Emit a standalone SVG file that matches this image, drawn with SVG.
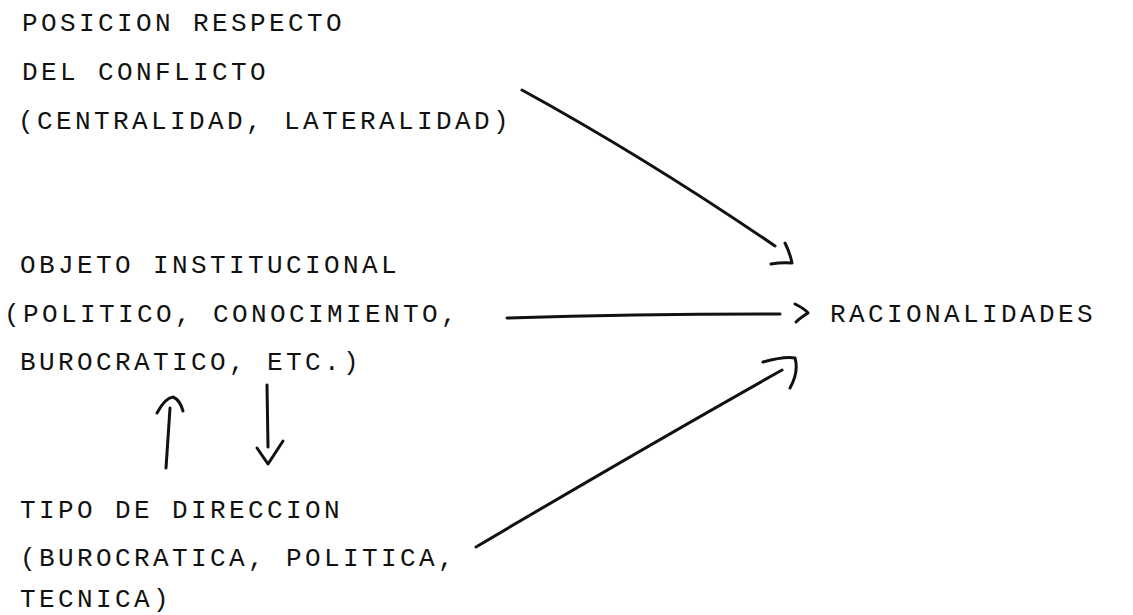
<svg xmlns="http://www.w3.org/2000/svg" width="1133" height="615" viewBox="0 0 1133 615">
<style>
text{font-family:"Liberation Mono","Courier New",monospace;font-size:26px;letter-spacing:3.4px;fill:#111}
.c{fill:none;stroke:#111;stroke-width:3;stroke-linecap:round;stroke-linejoin:round}
</style>
<rect width="1133" height="615" fill="#fff"/>
<g id="posicion"><text x="22" y="31">POSICION RESPECTO</text><text x="22" y="80">DEL CONFLICTO</text><text x="18" y="129">(CENTRALIDAD, LATERALIDAD)</text></g>
<g id="objeto"><text x="20" y="273">OBJETO INSTITUCIONAL</text><text x="4" y="322">(POLITICO, CONOCIMIENTO,</text><text x="20" y="370">BUROCRATICO, ETC.)</text></g>
<g id="tipo"><text x="20" y="518">TIPO DE DIRECCION</text><text x="20" y="566">(BUROCRATICA, POLITICA,</text><text x="20" y="607">TECNICA)</text></g>
<g id="racionalidades"><text x="830" y="322">RACIONALIDADES</text></g>
<g id="connectors">
<path class="c" d="M522,90 Q646,158 775,246"/>
<path class="c" d="M785,243 Q790,253 792,263 Q782,262 771,264"/>
<path class="c" d="M507,318 Q640,314 780,314"/>
<path class="c" d="M795,304 Q805,309 808,313 Q800,318 796,322"/>
<path class="c" d="M476,547 Q640,450 782,370"/>
<path class="c" d="M763,362 Q785,356 795,358 Q799,372 790,388"/>
<path class="c" d="M166,468 L170,408"/>
<path class="c" d="M157,413 Q165,398 173,397 Q180,400 183,411"/>
<path class="c" d="M267,385 L268,447"/>
<path class="c" d="M257,448 L268,464 L283,441"/>
</g>
</svg>
